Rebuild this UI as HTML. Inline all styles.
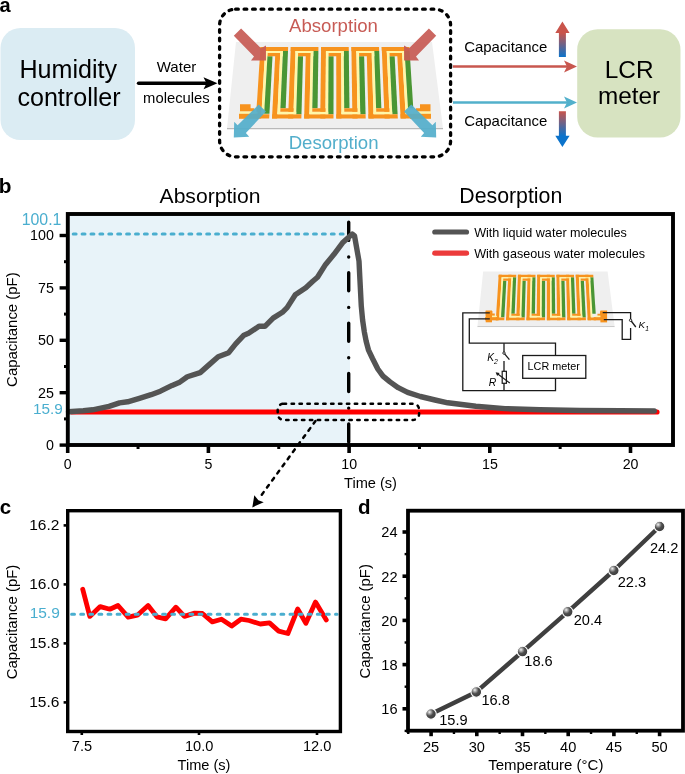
<!DOCTYPE html>
<html><head><meta charset="utf-8"><style>
html,body{margin:0;padding:0;background:#fff;}
body{width:685px;height:774px;overflow:hidden;}
svg{display:block;will-change:transform;}
text{font-family:"Liberation Sans",sans-serif;}
</style></head><body>
<svg width="685" height="774" viewBox="0 0 685 774">
<text x="-0.6" y="11.6" font-size="20" fill="#000" text-anchor="start" font-weight="bold" >a</text>
<rect x="0.5" y="28" width="134.5" height="112" rx="20" fill="#dbecf3"/>
<text x="68.3" y="78.4" font-size="25.1" fill="#000" text-anchor="middle" >Humidity</text>
<text x="69" y="105.7" font-size="25.1" fill="#000" text-anchor="middle" >controller</text>
<line x1="138.6" y1="83.2" x2="207" y2="83.2" stroke="#000" stroke-width="3.6" stroke-linecap="round"/>
<polygon points="217.5,83.3 203.5,77.3 206.5,83.3 203.5,89.3" fill="#000"/>
<text x="176.5" y="72" font-size="15" fill="#000" text-anchor="middle" >Water</text>
<text x="176.4" y="103" font-size="14.8" fill="#000" text-anchor="middle" >molecules</text>
<rect x="219.6" y="9.2" width="231" height="147.6" rx="16" fill="none" stroke="#000" stroke-width="3.3" stroke-linecap="round" stroke-dasharray="2.7 5.8"/>
<polygon points="236,42 432,42 443,128.3 227,128.3" fill="#efefef"/>
<line x1="227" y1="128.6" x2="443" y2="128.6" stroke="#b9b9b9" stroke-width="1.2"/>
<polygon points="260.5,47 265.4,47 261.11,118.6 255.91,118.6" fill="#f7931e"/>
<polygon points="265.16,51 267.77,51 264.13,114.2 261.38,114.2" fill="#fff7a8"/>
<polygon points="267.46,56.3 272.5,56.3 269.44,113.8 264.15,113.8" fill="#4a9634"/>
<polygon points="275.65,47 280.55,47 277.2,118.6 272,118.6" fill="#f7931e"/>
<polygon points="280.36,51 282.97,51 280.15,114.2 277.4,114.2" fill="#fff7a8"/>
<polygon points="282.97,51 287.99,51 285.68,108.3 280.42,108.3" fill="#4a9634"/>
<polygon points="290.8,47 295.7,47 293.28,118.6 288.08,118.6" fill="#f7931e"/>
<polygon points="295.56,51 298.17,51 296.18,114.2 293.43,114.2" fill="#fff7a8"/>
<polygon points="298.01,56.3 303.05,56.3 301.47,114.2 296.18,114.2" fill="#4a9634"/>
<polygon points="305.95,47 310.85,47 309.36,118.6 304.16,118.6" fill="#f7931e"/>
<polygon points="310.77,51 313.38,51 312.2,114.2 309.45,114.2" fill="#fff7a8"/>
<polygon points="313.38,51 318.39,51 317.58,108.3 312.31,108.3" fill="#4a9634"/>
<polygon points="321.1,47 326,47 325.45,118.6 320.24,118.6" fill="#f7931e"/>
<polygon points="325.97,51 328.58,51 328.23,114.2 325.48,114.2" fill="#fff7a8"/>
<polygon points="328.55,56.3 333.59,56.3 333.52,114.2 328.23,114.2" fill="#4a9634"/>
<polygon points="336.25,47 341.15,47 341.53,118.6 336.33,118.6" fill="#f7931e"/>
<polygon points="341.17,51 343.78,51 344.26,114.2 341.51,114.2" fill="#fff7a8"/>
<polygon points="343.78,51 348.8,51 349.47,108.3 344.21,108.3" fill="#4a9634"/>
<polygon points="351.4,47 356.3,47 357.61,118.6 352.41,118.6" fill="#f7931e"/>
<polygon points="356.37,51 358.98,51 360.28,114.2 357.53,114.2" fill="#fff7a8"/>
<polygon points="359.09,56.3 364.13,56.3 365.57,114.2 360.28,114.2" fill="#4a9634"/>
<polygon points="366.55,47 371.45,47 373.69,118.6 368.49,118.6" fill="#f7931e"/>
<polygon points="371.58,51 374.18,51 376.31,114.2 373.56,114.2" fill="#fff7a8"/>
<polygon points="374.18,51 379.2,51 381.37,108.3 376.11,108.3" fill="#4a9634"/>
<polygon points="381.7,47 386.6,47 389.78,118.6 384.58,118.6" fill="#f7931e"/>
<polygon points="386.78,51 389.39,51 392.33,114.2 389.58,114.2" fill="#fff7a8"/>
<polygon points="389.63,56.3 394.67,56.3 397.62,114.2 392.33,114.2" fill="#4a9634"/>
<polygon points="396.85,47 401.75,47 405.86,118.6 400.66,118.6" fill="#f7931e"/>
<polygon points="401.98,51 404.59,51 408.36,114.2 405.61,114.2" fill="#fff7a8"/>
<polygon points="404.59,51 409.61,51 413.27,108.3 408.01,108.3" fill="#4a9634"/>
<polygon points="260.5,47 288.15,47 287.99,51 260.24,51" fill="#f7931e"/>
<polygon points="265.16,51 282.97,51 282.89,52.9 265.05,52.9" fill="#fff7a8"/>
<polygon points="267.66,52.9 280.27,52.9 280.11,56.3 267.46,56.3" fill="#f7931e"/>
<polygon points="280.27,52.9 282.89,52.9 282.74,56.3 280.11,56.3" fill="#fff7a8"/>
<polygon points="290.8,47 318.45,47 318.39,51 290.65,51" fill="#f7931e"/>
<polygon points="295.56,51 313.38,51 313.34,52.9 295.5,52.9" fill="#fff7a8"/>
<polygon points="298.11,52.9 310.73,52.9 310.66,56.3 298.01,56.3" fill="#f7931e"/>
<polygon points="310.73,52.9 313.34,52.9 313.28,56.3 310.66,56.3" fill="#fff7a8"/>
<polygon points="321.1,47 348.75,47 348.8,51 321.05,51" fill="#f7931e"/>
<polygon points="325.97,51 343.78,51 343.79,52.9 325.95,52.9" fill="#fff7a8"/>
<polygon points="328.57,52.9 341.18,52.9 341.2,56.3 328.55,56.3" fill="#f7931e"/>
<polygon points="341.18,52.9 343.79,52.9 343.82,56.3 341.2,56.3" fill="#fff7a8"/>
<polygon points="351.4,47 379.05,47 379.2,51 351.46,51" fill="#f7931e"/>
<polygon points="356.37,51 374.18,51 374.25,52.9 356.41,52.9" fill="#fff7a8"/>
<polygon points="359.02,52.9 371.63,52.9 371.74,56.3 359.09,56.3" fill="#f7931e"/>
<polygon points="371.63,52.9 374.25,52.9 374.36,56.3 371.74,56.3" fill="#fff7a8"/>
<polygon points="381.7,47 409.35,47 409.61,51 381.86,51" fill="#f7931e"/>
<polygon points="386.78,51 404.59,51 404.7,52.9 386.86,52.9" fill="#fff7a8"/>
<polygon points="389.48,52.9 402.09,52.9 402.28,56.3 389.63,56.3" fill="#f7931e"/>
<polygon points="402.09,52.9 404.7,52.9 404.9,56.3 402.28,56.3" fill="#fff7a8"/>
<polygon points="272.22,114.2 301.47,114.2 301.35,118.6 272,118.6" fill="#f7931e"/>
<polygon points="277.52,111.7 296.26,111.7 296.18,114.2 277.4,114.2" fill="#fff7a8"/>
<polygon points="280.42,108.3 293.63,108.3 293.51,111.7 280.26,111.7" fill="#f7931e"/>
<polygon points="304.27,114.2 333.52,114.2 333.51,118.6 304.16,118.6" fill="#f7931e"/>
<polygon points="309.51,111.7 328.24,111.7 328.23,114.2 309.45,114.2" fill="#fff7a8"/>
<polygon points="312.31,108.3 325.53,108.3 325.5,111.7 312.25,111.7" fill="#f7931e"/>
<polygon points="336.32,114.2 365.57,114.2 365.68,118.6 336.33,118.6" fill="#f7931e"/>
<polygon points="341.49,111.7 360.23,111.7 360.28,114.2 341.51,114.2" fill="#fff7a8"/>
<polygon points="344.21,108.3 357.42,108.3 357.49,111.7 344.24,111.7" fill="#f7931e"/>
<polygon points="368.37,114.2 397.62,114.2 397.85,118.6 368.49,118.6" fill="#f7931e"/>
<polygon points="373.48,111.7 392.22,111.7 392.33,114.2 373.56,114.2" fill="#fff7a8"/>
<polygon points="376.11,108.3 389.32,108.3 389.47,111.7 376.22,111.7" fill="#f7931e"/>
<polygon points="256.19,114.2 269.42,114.2 269.18,118.6 255.91,118.6" fill="#f7931e"/>
<polygon points="400.42,114.2 413.65,114.2 413.93,118.6 400.66,118.6" fill="#f7931e"/>
<polygon points="240,104.2 250.6,104.2 250.6,108.2 254.3,108.2 254.3,111.6 240,111.6" fill="#f7931e"/>
<rect x="239.5" y="111.6" width="18" height="2.2" fill="#fff7a8"/>
<rect x="239" y="113.8" width="20" height="5" fill="#f7931e"/>
<polygon points="430.5,104.3 420,104.3 420,108.3 416,108.3 416,111.6 430.5,111.6" fill="#f7931e"/>
<rect x="413" y="111.6" width="18" height="2.2" fill="#fff7a8"/>
<rect x="410" y="113.8" width="21" height="5" fill="#f7931e"/>
<polygon points="241.1,28.4 261,48.3 266,45.5 266,60.5 251,60.5 254,56.6 233.8,35.7" fill="#c75b55" fill-opacity="0.93"/>
<polygon points="428.9,28.4 409,48.3 404,45.5 404,60.5 419,60.5 416,56.6 436.2,35.7" fill="#c75b55" fill-opacity="0.93"/>
<polygon points="258.7,104.6 266,111.5 245.9,133 249.2,136.7 233.8,137.4 234.2,121.7 237.6,125.3" fill="#52aecb" fill-opacity="0.92"/>
<polygon points="411.3,104.6 404,111.5 424.1,133 420.8,136.7 436.2,137.4 435.8,121.7 432.4,125.3" fill="#52aecb" fill-opacity="0.92"/>
<text x="333.5" y="31.7" font-size="18.6" fill="#c75b55" text-anchor="middle" >Absorption</text>
<text x="333.6" y="148.7" font-size="18.6" fill="#52aecb" text-anchor="middle" >Desorption</text>
<line x1="453" y1="66.5" x2="568" y2="66.5" stroke="#c8574f" stroke-width="2.4"/>
<polygon points="577,66.5 564,60.6 567,66.5 564,72.4" fill="#c8574f"/>
<line x1="453" y1="102.5" x2="568" y2="102.5" stroke="#52b0cb" stroke-width="2.4"/>
<polygon points="577,102.5 564,96.6 567,102.5 564,108.4" fill="#52b0cb"/>
<text x="505.7" y="51.6" font-size="14.95" fill="#000" text-anchor="middle" >Capacitance</text>
<text x="505.7" y="125.9" font-size="14.95" fill="#000" text-anchor="middle" >Capacitance</text>
<defs>
<linearGradient id="gup" gradientUnits="userSpaceOnUse" x1="0" y1="33" x2="0" y2="57"><stop offset="0" stop-color="#c9544b"/><stop offset="1" stop-color="#0b73cb"/></linearGradient>
<linearGradient id="gdn" gradientUnits="userSpaceOnUse" x1="0" y1="111.3" x2="0" y2="136"><stop offset="0" stop-color="#c9544b"/><stop offset="1" stop-color="#0b73cb"/></linearGradient>
<radialGradient id="ball" cx="0.36" cy="0.34" r="0.7" fx="0.36" fy="0.32"><stop offset="0" stop-color="#f4f4f4"/><stop offset="0.22" stop-color="#a8a8a8"/><stop offset="0.5" stop-color="#4e4e4e"/><stop offset="1" stop-color="#383838"/></radialGradient>
</defs>
<polygon points="562.4,21.4 569.6,33 565.9,33 565.9,57 558.9,57 558.9,33 555.3,33" fill="url(#gup)"/>
<polygon points="558.9,111.3 565.9,111.3 565.9,135.8 569.6,135.8 562.4,147 555.3,135.8 558.9,135.8" fill="url(#gdn)"/>
<rect x="577.2" y="29.2" width="103.3" height="108.3" rx="20.5" fill="#d7e3c1"/>
<text x="629.2" y="77.6" font-size="24.4" fill="#000" text-anchor="middle" >LCR</text>
<text x="629" y="104.4" font-size="24.3" fill="#000" text-anchor="middle" >meter</text>
<text x="-1.3" y="192.9" font-size="20.8" fill="#000" text-anchor="start" font-weight="bold" >b</text>
<text x="210" y="202.6" font-size="21.1" fill="#000" text-anchor="middle" >Absorption</text>
<text x="510.8" y="202.6" font-size="21.3" fill="#000" text-anchor="middle" >Desorption</text>
<rect x="68" y="214" width="282" height="231" fill="#e8f3f9"/>
<line x1="73.2" y1="234" x2="347" y2="234" stroke="#4aaecf" stroke-width="3" stroke-linecap="round" stroke-dasharray="2.9 6"/>
<line x1="348.7" y1="222.3" x2="348.7" y2="443.5" stroke="#000" stroke-width="3.4" stroke-linecap="round" stroke-dasharray="18.1 16.6 0.01 15.69"/>
<line x1="72" y1="412" x2="657" y2="412" stroke="#ff0000" stroke-width="5.2" stroke-linecap="round"/>
<polyline points="68.5,411.8 83.4,410.8 92.7,409.8 109,406.4 119.6,402.9 127.7,401.8 139.4,398.3 151.1,394.7 160.4,391.2 172.1,385.4 179.1,382.6 187.3,376.8 200.2,372.6 209.5,364.4 218.2,356.7 228.7,352.7 235.7,343.8 243.9,335.2 248.5,333.3 259,326.3 264.9,326.3 273.1,318.1 282.4,312.3 287.1,307.6 295.3,294.8 305.8,287.7 312.8,281.2 317.5,277.2 325.6,264.4 333.8,254.6 343.1,242.2 352.3,234 354.5,235.8 359,261.1 359.9,279.2 361.3,306.3 362.6,320 364.3,331.7 366.1,341 368.4,349.8 372.5,358.5 377.8,369 383,376.1 390,381.9 398.2,387.7 407.6,392.4 420.4,396.5 435,400 447.8,402.8 475.8,406.3 505,408.6 540,409.8 580,410.5 620,410.8 654.3,411" fill="none" stroke="#545454" stroke-width="5.4" stroke-linejoin="round" stroke-linecap="round"/>
<rect x="67.8" y="214" width="605.2" height="231" fill="none" stroke="#000" stroke-width="3.9"/>
<line x1="59.6" y1="445.1" x2="68" y2="445.1" stroke="#000" stroke-width="3.4"/>
<text x="53.9" y="449.9" font-size="14.3" fill="#000" text-anchor="end" >0</text>
<line x1="59.6" y1="392.7" x2="68" y2="392.7" stroke="#000" stroke-width="3.4"/>
<text x="53.9" y="397.5" font-size="14.3" fill="#000" text-anchor="end" >25</text>
<line x1="59.6" y1="340.3" x2="68" y2="340.3" stroke="#000" stroke-width="3.4"/>
<text x="53.9" y="345.1" font-size="14.3" fill="#000" text-anchor="end" >50</text>
<line x1="59.6" y1="287.9" x2="68" y2="287.9" stroke="#000" stroke-width="3.4"/>
<text x="53.9" y="292.7" font-size="14.3" fill="#000" text-anchor="end" >75</text>
<line x1="59.6" y1="235.5" x2="68" y2="235.5" stroke="#000" stroke-width="3.4"/>
<text x="53.9" y="240.3" font-size="14.3" fill="#000" text-anchor="end" >100</text>
<line x1="64" y1="418.9" x2="68" y2="418.9" stroke="#000" stroke-width="3"/>
<line x1="64" y1="366.5" x2="68" y2="366.5" stroke="#000" stroke-width="3"/>
<line x1="64" y1="314.1" x2="68" y2="314.1" stroke="#000" stroke-width="3"/>
<line x1="64" y1="261.7" x2="68" y2="261.7" stroke="#000" stroke-width="3"/>
<line x1="67.7" y1="445" x2="67.7" y2="453" stroke="#000" stroke-width="3.6"/>
<text x="67.8" y="468.5" font-size="14.2" fill="#000" text-anchor="middle" >0</text>
<line x1="208.4" y1="445" x2="208.4" y2="453" stroke="#000" stroke-width="3.6"/>
<text x="208.5" y="468.5" font-size="14.2" fill="#000" text-anchor="middle" >5</text>
<line x1="349.1" y1="445" x2="349.1" y2="453" stroke="#000" stroke-width="3.6"/>
<text x="349.2" y="468.5" font-size="14.2" fill="#000" text-anchor="middle" >10</text>
<line x1="489.8" y1="445" x2="489.8" y2="453" stroke="#000" stroke-width="3.6"/>
<text x="489.9" y="468.5" font-size="14.2" fill="#000" text-anchor="middle" >15</text>
<line x1="630.5" y1="445" x2="630.5" y2="453" stroke="#000" stroke-width="3.6"/>
<text x="630.6" y="468.5" font-size="14.2" fill="#000" text-anchor="middle" >20</text>
<line x1="138.05" y1="445" x2="138.05" y2="449" stroke="#000" stroke-width="3"/>
<line x1="278.75" y1="445" x2="278.75" y2="449" stroke="#000" stroke-width="3"/>
<line x1="419.45" y1="445" x2="419.45" y2="449" stroke="#000" stroke-width="3"/>
<line x1="560.15" y1="445" x2="560.15" y2="449" stroke="#000" stroke-width="3"/>
<text x="61.4" y="225.1" font-size="15.9" fill="#4aaecf" text-anchor="end" >100.1</text>
<text x="62.8" y="414.2" font-size="15.3" fill="#4aaecf" text-anchor="end" >15.9</text>
<text x="370.5" y="488.2" font-size="14.6" fill="#000" text-anchor="middle" >Time (s)</text>
<text x="16.9" y="329.6" font-size="14.95" fill="#000" text-anchor="middle" transform="rotate(-90 16.9 329.6)">Capacitance (pF)</text>
<line x1="434.8" y1="232" x2="466.5" y2="232" stroke="#545454" stroke-width="5.2" stroke-linecap="round"/>
<line x1="434.8" y1="253.2" x2="466.5" y2="253.2" stroke="#ec3b3b" stroke-width="5.2" stroke-linecap="round"/>
<text x="474.2" y="236.5" font-size="12.6" fill="#000" text-anchor="start" >With liquid water molecules</text>
<text x="474.2" y="257.5" font-size="12.6" fill="#000" text-anchor="start" >With gaseous water molecules</text>
<g transform="matrix(0.635,0,0,0.635,333.3,244.9)"><polygon points="236,42 432,42 443,128.3 227,128.3" fill="#efefef"/>
<line x1="227" y1="128.6" x2="443" y2="128.6" stroke="#b9b9b9" stroke-width="1.2"/>
<polygon points="260.5,47 265.4,47 261.11,118.6 255.91,118.6" fill="#f7931e"/>
<polygon points="265.16,51 267.77,51 264.13,114.2 261.38,114.2" fill="#fff7a8"/>
<polygon points="267.46,56.3 272.5,56.3 269.44,113.8 264.15,113.8" fill="#4a9634"/>
<polygon points="275.65,47 280.55,47 277.2,118.6 272,118.6" fill="#f7931e"/>
<polygon points="280.36,51 282.97,51 280.15,114.2 277.4,114.2" fill="#fff7a8"/>
<polygon points="282.97,51 287.99,51 285.68,108.3 280.42,108.3" fill="#4a9634"/>
<polygon points="290.8,47 295.7,47 293.28,118.6 288.08,118.6" fill="#f7931e"/>
<polygon points="295.56,51 298.17,51 296.18,114.2 293.43,114.2" fill="#fff7a8"/>
<polygon points="298.01,56.3 303.05,56.3 301.47,114.2 296.18,114.2" fill="#4a9634"/>
<polygon points="305.95,47 310.85,47 309.36,118.6 304.16,118.6" fill="#f7931e"/>
<polygon points="310.77,51 313.38,51 312.2,114.2 309.45,114.2" fill="#fff7a8"/>
<polygon points="313.38,51 318.39,51 317.58,108.3 312.31,108.3" fill="#4a9634"/>
<polygon points="321.1,47 326,47 325.45,118.6 320.24,118.6" fill="#f7931e"/>
<polygon points="325.97,51 328.58,51 328.23,114.2 325.48,114.2" fill="#fff7a8"/>
<polygon points="328.55,56.3 333.59,56.3 333.52,114.2 328.23,114.2" fill="#4a9634"/>
<polygon points="336.25,47 341.15,47 341.53,118.6 336.33,118.6" fill="#f7931e"/>
<polygon points="341.17,51 343.78,51 344.26,114.2 341.51,114.2" fill="#fff7a8"/>
<polygon points="343.78,51 348.8,51 349.47,108.3 344.21,108.3" fill="#4a9634"/>
<polygon points="351.4,47 356.3,47 357.61,118.6 352.41,118.6" fill="#f7931e"/>
<polygon points="356.37,51 358.98,51 360.28,114.2 357.53,114.2" fill="#fff7a8"/>
<polygon points="359.09,56.3 364.13,56.3 365.57,114.2 360.28,114.2" fill="#4a9634"/>
<polygon points="366.55,47 371.45,47 373.69,118.6 368.49,118.6" fill="#f7931e"/>
<polygon points="371.58,51 374.18,51 376.31,114.2 373.56,114.2" fill="#fff7a8"/>
<polygon points="374.18,51 379.2,51 381.37,108.3 376.11,108.3" fill="#4a9634"/>
<polygon points="381.7,47 386.6,47 389.78,118.6 384.58,118.6" fill="#f7931e"/>
<polygon points="386.78,51 389.39,51 392.33,114.2 389.58,114.2" fill="#fff7a8"/>
<polygon points="389.63,56.3 394.67,56.3 397.62,114.2 392.33,114.2" fill="#4a9634"/>
<polygon points="396.85,47 401.75,47 405.86,118.6 400.66,118.6" fill="#f7931e"/>
<polygon points="401.98,51 404.59,51 408.36,114.2 405.61,114.2" fill="#fff7a8"/>
<polygon points="404.59,51 409.61,51 413.27,108.3 408.01,108.3" fill="#4a9634"/>
<polygon points="260.5,47 288.15,47 287.99,51 260.24,51" fill="#f7931e"/>
<polygon points="265.16,51 282.97,51 282.89,52.9 265.05,52.9" fill="#fff7a8"/>
<polygon points="267.66,52.9 280.27,52.9 280.11,56.3 267.46,56.3" fill="#f7931e"/>
<polygon points="280.27,52.9 282.89,52.9 282.74,56.3 280.11,56.3" fill="#fff7a8"/>
<polygon points="290.8,47 318.45,47 318.39,51 290.65,51" fill="#f7931e"/>
<polygon points="295.56,51 313.38,51 313.34,52.9 295.5,52.9" fill="#fff7a8"/>
<polygon points="298.11,52.9 310.73,52.9 310.66,56.3 298.01,56.3" fill="#f7931e"/>
<polygon points="310.73,52.9 313.34,52.9 313.28,56.3 310.66,56.3" fill="#fff7a8"/>
<polygon points="321.1,47 348.75,47 348.8,51 321.05,51" fill="#f7931e"/>
<polygon points="325.97,51 343.78,51 343.79,52.9 325.95,52.9" fill="#fff7a8"/>
<polygon points="328.57,52.9 341.18,52.9 341.2,56.3 328.55,56.3" fill="#f7931e"/>
<polygon points="341.18,52.9 343.79,52.9 343.82,56.3 341.2,56.3" fill="#fff7a8"/>
<polygon points="351.4,47 379.05,47 379.2,51 351.46,51" fill="#f7931e"/>
<polygon points="356.37,51 374.18,51 374.25,52.9 356.41,52.9" fill="#fff7a8"/>
<polygon points="359.02,52.9 371.63,52.9 371.74,56.3 359.09,56.3" fill="#f7931e"/>
<polygon points="371.63,52.9 374.25,52.9 374.36,56.3 371.74,56.3" fill="#fff7a8"/>
<polygon points="381.7,47 409.35,47 409.61,51 381.86,51" fill="#f7931e"/>
<polygon points="386.78,51 404.59,51 404.7,52.9 386.86,52.9" fill="#fff7a8"/>
<polygon points="389.48,52.9 402.09,52.9 402.28,56.3 389.63,56.3" fill="#f7931e"/>
<polygon points="402.09,52.9 404.7,52.9 404.9,56.3 402.28,56.3" fill="#fff7a8"/>
<polygon points="272.22,114.2 301.47,114.2 301.35,118.6 272,118.6" fill="#f7931e"/>
<polygon points="277.52,111.7 296.26,111.7 296.18,114.2 277.4,114.2" fill="#fff7a8"/>
<polygon points="280.42,108.3 293.63,108.3 293.51,111.7 280.26,111.7" fill="#f7931e"/>
<polygon points="304.27,114.2 333.52,114.2 333.51,118.6 304.16,118.6" fill="#f7931e"/>
<polygon points="309.51,111.7 328.24,111.7 328.23,114.2 309.45,114.2" fill="#fff7a8"/>
<polygon points="312.31,108.3 325.53,108.3 325.5,111.7 312.25,111.7" fill="#f7931e"/>
<polygon points="336.32,114.2 365.57,114.2 365.68,118.6 336.33,118.6" fill="#f7931e"/>
<polygon points="341.49,111.7 360.23,111.7 360.28,114.2 341.51,114.2" fill="#fff7a8"/>
<polygon points="344.21,108.3 357.42,108.3 357.49,111.7 344.24,111.7" fill="#f7931e"/>
<polygon points="368.37,114.2 397.62,114.2 397.85,118.6 368.49,118.6" fill="#f7931e"/>
<polygon points="373.48,111.7 392.22,111.7 392.33,114.2 373.56,114.2" fill="#fff7a8"/>
<polygon points="376.11,108.3 389.32,108.3 389.47,111.7 376.22,111.7" fill="#f7931e"/>
<polygon points="256.19,114.2 269.42,114.2 269.18,118.6 255.91,118.6" fill="#f7931e"/>
<polygon points="400.42,114.2 413.65,114.2 413.93,118.6 400.66,118.6" fill="#f7931e"/>
<polygon points="240,104.2 250.6,104.2 250.6,108.2 254.3,108.2 254.3,111.6 240,111.6" fill="#f7931e"/>
<rect x="239.5" y="111.6" width="18" height="2.2" fill="#fff7a8"/>
<rect x="239" y="113.8" width="20" height="5" fill="#f7931e"/>
<polygon points="430.5,104.3 420,104.3 420,108.3 416,108.3 416,111.6 430.5,111.6" fill="#f7931e"/>
<rect x="413" y="111.6" width="18" height="2.2" fill="#fff7a8"/>
<rect x="410" y="113.8" width="21" height="5" fill="#f7931e"/></g>
<rect x="485.7" y="310.5" width="6.3" height="11.8" fill="#f7931e"/>
<rect x="600.4" y="310.5" width="6.7" height="11.9" fill="#f7931e"/>
<polyline points="489.8,312.8 462.8,312.8 462.8,390.6 555.5,390.6 555.5,378.3" stroke="#1a1a1a" stroke-width="1.3" fill="none"/>
<polyline points="489.8,318.9 469.3,318.9 469.3,343.2 555.5,343.2 555.5,355.5" stroke="#1a1a1a" stroke-width="1.3" fill="none"/>
<rect x="522.7" y="355.5" width="63.1" height="22.8" stroke="#1a1a1a" stroke-width="1.3" fill="none"/>
<text x="553.7" y="370.3" font-size="10.8" fill="#000" text-anchor="middle" >LCR meter</text>
<line x1="504" y1="343.2" x2="504" y2="352" stroke="#1a1a1a" stroke-width="1.3" fill="none"/>
<circle cx="504" cy="353.1" r="1.2" fill="#fff" stroke="#1a1a1a" stroke-width="0.9"/>
<line x1="504.6" y1="353.8" x2="509.4" y2="359.6" stroke="#1a1a1a" stroke-width="1.3" fill="none"/>
<line x1="504" y1="361" x2="504" y2="390.6" stroke="#1a1a1a" stroke-width="1.3" fill="none"/>
<rect x="502.2" y="371.3" width="4.2" height="12" fill="#fff" stroke="#1a1a1a" stroke-width="1.2"/>
<line x1="497.8" y1="374" x2="509.8" y2="383" stroke="#1a1a1a" stroke-width="1.1"/>
<polygon points="495.6,372.3 499.6,372.9 497.2,376" fill="#1a1a1a"/>
<text x="487.2" y="361" font-size="10.2" fill="#000" text-anchor="start" ><tspan font-style="italic">K</tspan><tspan font-size="6.8" dy="2.6" font-style="italic">2</tspan></text>
<text x="488.8" y="386.4" font-size="10.4" fill="#000" text-anchor="start" ><tspan font-style="italic">R</tspan></text>
<polyline points="602.7,312.6 630.6,312.6 630.6,319.2" stroke="#1a1a1a" stroke-width="1.3" fill="none"/>
<circle cx="630.6" cy="320.3" r="1.2" fill="#fff" stroke="#1a1a1a" stroke-width="0.9"/>
<line x1="631.2" y1="321" x2="635.8" y2="327" stroke="#1a1a1a" stroke-width="1.3" fill="none"/>
<polyline points="630.6,328.1 630.6,339.4 622.2,339.4 622.2,319.6 603.8,319.6" stroke="#1a1a1a" stroke-width="1.3" fill="none"/>
<text x="638.6" y="328.1" font-size="9.8" fill="#000" text-anchor="start" ><tspan font-style="italic">K</tspan><tspan font-size="6.6" dy="2.6" font-style="italic">1</tspan></text>
<rect x="277.7" y="403.7" width="141.4" height="16.2" rx="6" fill="none" stroke="#000" stroke-width="2.5" stroke-linecap="round" stroke-dasharray="2.4 5.5"/>
<line x1="315.5" y1="421" x2="258.5" y2="499.2" stroke="#000" stroke-width="2.5" stroke-linecap="round" stroke-dasharray="3.2 5.6"/>
<polygon points="252.3,507.4 254.3,495.2 258.4,500.3 263.7,502.2" fill="#000"/>
<text x="-0.3" y="514.3" font-size="20.5" fill="#000" text-anchor="start" font-weight="bold" >c</text>
<polyline points="82.7,589.2 89.8,616.4 100.2,606.6 109.9,609.2 118,605.5 128.2,617.2 137.4,615.2 148.1,605.5 156.9,616.8 165.6,618.8 175.9,607.2 184.4,616.4 194.7,613.1 202.4,613.5 212.3,621.9 221.5,619.2 231.7,626 240.9,619.2 249,620.5 260.3,624 269.5,622.9 278.7,631.1 287.9,633.5 297.7,609 305.9,623.3 315.5,602.1 326.3,619.9" fill="none" stroke="#ff0000" stroke-width="4.8" stroke-linejoin="round" stroke-linecap="round"/>
<line x1="71.6" y1="614.2" x2="337" y2="614.2" stroke="#4aaecf" stroke-width="3" stroke-linecap="round" stroke-dasharray="2.9 6.2"/>
<rect x="67.7" y="510.7" width="272.7" height="220.8" fill="none" stroke="#000" stroke-width="3.4"/>
<line x1="63.6" y1="525.4" x2="67.7" y2="525.4" stroke="#000" stroke-width="2.6"/>
<text x="59.4" y="530.4" font-size="15.5" fill="#000" text-anchor="end" >16.2</text>
<line x1="63.6" y1="584.4" x2="67.7" y2="584.4" stroke="#000" stroke-width="2.6"/>
<text x="59.4" y="589.4" font-size="15.5" fill="#000" text-anchor="end" >16.0</text>
<line x1="63.6" y1="643.4" x2="67.7" y2="643.4" stroke="#000" stroke-width="2.6"/>
<text x="59.4" y="648.4" font-size="15.5" fill="#000" text-anchor="end" >15.8</text>
<line x1="63.6" y1="702.4" x2="67.7" y2="702.4" stroke="#000" stroke-width="2.6"/>
<text x="59.4" y="707.4" font-size="15.5" fill="#000" text-anchor="end" >15.6</text>
<text x="59.8" y="618.1" font-size="15.5" fill="#4aaecf" text-anchor="end" >15.9</text>
<line x1="81.8" y1="731.5" x2="81.8" y2="735" stroke="#000" stroke-width="2.6"/>
<text x="82" y="751" font-size="14.6" fill="#000" text-anchor="middle" >7.5</text>
<line x1="199" y1="731.5" x2="199" y2="735" stroke="#000" stroke-width="2.6"/>
<text x="199.2" y="751" font-size="14.6" fill="#000" text-anchor="middle" >10.0</text>
<line x1="317" y1="731.5" x2="317" y2="735" stroke="#000" stroke-width="2.6"/>
<text x="317.2" y="751" font-size="14.6" fill="#000" text-anchor="middle" >12.0</text>
<text x="204" y="770.2" font-size="14.6" fill="#000" text-anchor="middle" >Time (s)</text>
<text x="17" y="622" font-size="14.95" fill="#000" text-anchor="middle" transform="rotate(-90 17.0 622)">Capacitance (pF)</text>
<text x="358" y="513.7" font-size="20.5" fill="#000" text-anchor="start" font-weight="bold" >d</text>
<rect x="408" y="510.7" width="275" height="220" fill="none" stroke="#000" stroke-width="3.8"/>
<line x1="402.5" y1="708.8" x2="408" y2="708.8" stroke="#000" stroke-width="3.6"/>
<text x="397.6" y="714.2" font-size="14.6" fill="#000" text-anchor="end" >16</text>
<line x1="402.5" y1="664.6" x2="408" y2="664.6" stroke="#000" stroke-width="3.6"/>
<text x="397.6" y="670" font-size="14.6" fill="#000" text-anchor="end" >18</text>
<line x1="402.5" y1="620.4" x2="408" y2="620.4" stroke="#000" stroke-width="3.6"/>
<text x="397.6" y="625.8" font-size="14.6" fill="#000" text-anchor="end" >20</text>
<line x1="402.5" y1="576.2" x2="408" y2="576.2" stroke="#000" stroke-width="3.6"/>
<text x="397.6" y="581.6" font-size="14.6" fill="#000" text-anchor="end" >22</text>
<line x1="402.5" y1="532" x2="408" y2="532" stroke="#000" stroke-width="3.6"/>
<text x="397.6" y="537.4" font-size="14.6" fill="#000" text-anchor="end" >24</text>
<line x1="404.6" y1="730.9" x2="408" y2="730.9" stroke="#000" stroke-width="2.4"/>
<line x1="404.6" y1="686.7" x2="408" y2="686.7" stroke="#000" stroke-width="2.4"/>
<line x1="404.6" y1="642.5" x2="408" y2="642.5" stroke="#000" stroke-width="2.4"/>
<line x1="404.6" y1="598.3" x2="408" y2="598.3" stroke="#000" stroke-width="2.4"/>
<line x1="404.6" y1="554.1" x2="408" y2="554.1" stroke="#000" stroke-width="2.4"/>
<line x1="431.1" y1="730.7" x2="431.1" y2="736.2" stroke="#000" stroke-width="3.6"/>
<text x="431.1" y="751.8" font-size="14.6" fill="#000" text-anchor="middle" >25</text>
<line x1="476.8" y1="730.7" x2="476.8" y2="736.2" stroke="#000" stroke-width="3.6"/>
<text x="476.8" y="751.8" font-size="14.6" fill="#000" text-anchor="middle" >30</text>
<line x1="522.5" y1="730.7" x2="522.5" y2="736.2" stroke="#000" stroke-width="3.6"/>
<text x="522.5" y="751.8" font-size="14.6" fill="#000" text-anchor="middle" >35</text>
<line x1="568.2" y1="730.7" x2="568.2" y2="736.2" stroke="#000" stroke-width="3.6"/>
<text x="568.2" y="751.8" font-size="14.6" fill="#000" text-anchor="middle" >40</text>
<line x1="613.9" y1="730.7" x2="613.9" y2="736.2" stroke="#000" stroke-width="3.6"/>
<text x="613.9" y="751.8" font-size="14.6" fill="#000" text-anchor="middle" >45</text>
<line x1="659.6" y1="730.7" x2="659.6" y2="736.2" stroke="#000" stroke-width="3.6"/>
<text x="659.6" y="751.8" font-size="14.6" fill="#000" text-anchor="middle" >50</text>
<line x1="408.25" y1="730.7" x2="408.25" y2="734" stroke="#000" stroke-width="2.4"/>
<line x1="453.95" y1="730.7" x2="453.95" y2="734" stroke="#000" stroke-width="2.4"/>
<line x1="499.65" y1="730.7" x2="499.65" y2="734" stroke="#000" stroke-width="2.4"/>
<line x1="545.35" y1="730.7" x2="545.35" y2="734" stroke="#000" stroke-width="2.4"/>
<line x1="591.05" y1="730.7" x2="591.05" y2="734" stroke="#000" stroke-width="2.4"/>
<line x1="636.75" y1="730.7" x2="636.75" y2="734" stroke="#000" stroke-width="2.4"/>
<text x="545.8" y="770.4" font-size="15" fill="#000" text-anchor="middle" >Temperature (°C)</text>
<text x="369.8" y="621.3" font-size="14.95" fill="#000" text-anchor="middle" transform="rotate(-90 369.8 621.3)">Capacitance (pF)</text>
<polyline points="431,714 476.3,691.9 522.5,651.6 567.7,611.8 613.8,570.5 659.6,526.5" fill="none" stroke="#3f3f3f" stroke-width="4.4" stroke-linejoin="round"/>
<circle cx="431" cy="714" r="5.3" fill="url(#ball)" stroke="#fff" stroke-width="1.1"/>
<circle cx="476.3" cy="691.9" r="5.3" fill="url(#ball)" stroke="#fff" stroke-width="1.1"/>
<circle cx="522.5" cy="651.6" r="5.3" fill="url(#ball)" stroke="#fff" stroke-width="1.1"/>
<circle cx="567.7" cy="611.8" r="5.3" fill="url(#ball)" stroke="#fff" stroke-width="1.1"/>
<circle cx="613.8" cy="570.5" r="5.3" fill="url(#ball)" stroke="#fff" stroke-width="1.1"/>
<circle cx="659.6" cy="526.5" r="5.3" fill="url(#ball)" stroke="#fff" stroke-width="1.1"/>
<text x="439.2" y="725" font-size="14.6" fill="#000" text-anchor="start" >15.9</text>
<text x="481.4" y="705" font-size="14.6" fill="#000" text-anchor="start" >16.8</text>
<text x="524.3" y="666.2" font-size="14.6" fill="#000" text-anchor="start" >18.6</text>
<text x="573.7" y="625.2" font-size="14.6" fill="#000" text-anchor="start" >20.4</text>
<text x="617.7" y="587.2" font-size="14.6" fill="#000" text-anchor="start" >22.3</text>
<text x="650" y="553.4" font-size="14.6" fill="#000" text-anchor="start" >24.2</text>
</svg>
</body></html>
